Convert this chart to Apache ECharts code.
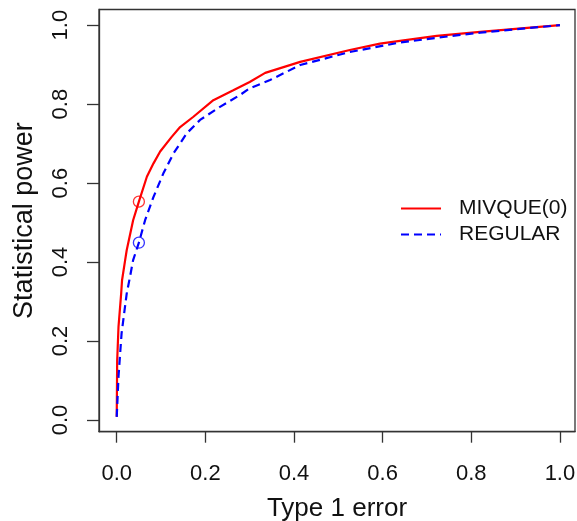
<!DOCTYPE html>
<html><head><meta charset="utf-8">
<script src="https://cdn.jsdelivr.net/npm/echarts@6/dist/echarts.min.js"></script>
<style>html,body{margin:0;padding:0;background:#fff}#c{width:577px;height:521px}</style>
</head><body><div id="c"></div>
<script>
// Data
const mivqueX = [0, 0.001, 0.004, 0.01, 0.012, 0.019, 0.0225, 0.037, 0.05, 0.068, 0.083, 0.098, 0.124, 0.143, 0.173, 0.218, 0.263, 0.30, 0.335, 0.414, 0.526, 0.594, 0.639, 0.722, 0.82, 1.0];
const mivqueY = [0.008, 0.15, 0.236, 0.32, 0.354, 0.405, 0.43, 0.506, 0.553, 0.616, 0.65, 0.68, 0.717, 0.742, 0.768, 0.81, 0.835, 0.856, 0.879, 0.907, 0.937, 0.953, 0.96, 0.973, 0.983, 1.0];
const regularX = [0, 0.004, 0.011, 0.0225, 0.030, 0.037, 0.05, 0.064, 0.083, 0.105, 0.128, 0.158, 0.188, 0.233, 0.278, 0.30, 0.346, 0.414, 0.526, 0.639, 0.737, 0.82, 1.0];
const regularY = [0.008, 0.11, 0.22, 0.32, 0.363, 0.405, 0.449, 0.506, 0.565, 0.624, 0.675, 0.726, 0.76, 0.793, 0.823, 0.84, 0.861, 0.899, 0.932, 0.956, 0.970, 0.981, 1.0];
const markX = [0.05];
const markMivqueY = [0.553];
const markRegularY = [0.449];
const tickValues = [0, 0.2, 0.4, 0.6, 0.8, 1.0];
const tickLabels = ['0.0', '0.2', '0.4', '0.6', '0.8', '1.0'];
const seriesNames = ['MIVQUE(0)', 'REGULAR'];

const zip = (xs, ys) => xs.map((x, i) => [x, ys[i]]);
const fmt = v => { const i = tickValues.findIndex(t => Math.abs(t - v) < 1e-9); return i >= 0 ? tickLabels[i] : ''; };
const FONT = '"Liberation Sans", Arial, sans-serif';
const axisCol = '#333';

const chart = echarts.init(document.getElementById('c'), null, {renderer: 'canvas'});
chart.setOption({
  animation: false,
  backgroundColor: '#fff',
  grid: {left: 99, top: 9.5, right: 2, bottom: 89.3, show: true, borderColor: axisCol, borderWidth: 1.3,
         backgroundColor: 'transparent', containLabel: false, outerBoundsMode: 'none'},
  xAxis: {
    type: 'value', min: -0.04, max: 1.034,
    splitLine: {show: false},
    axisLine: {show: true, onZero: false, lineStyle: {color: axisCol, width: 1.3}},
    axisTick: {show: true, customValues: tickValues, length: 11, lineStyle: {color: axisCol, width: 1.3}},
    axisLabel: {customValues: tickValues, formatter: fmt, fontFamily: FONT, fontSize: 22, color: '#111', margin: 31},
    name: 'Type 1 error', nameLocation: 'middle', nameGap: 64,
    nameTextStyle: {fontFamily: FONT, fontSize: 26, color: '#111'}
  },
  yAxis: {
    type: 'value', min: -0.0296, max: 1.0396,
    splitLine: {show: false},
    axisLine: {show: true, onZero: false, lineStyle: {color: axisCol, width: 1.3}},
    axisTick: {show: true, customValues: tickValues, length: 12, lineStyle: {color: axisCol, width: 1.3}},
    axisLabel: {customValues: tickValues, formatter: fmt, rotate: 90, fontFamily: FONT, fontSize: 22, color: '#111', margin: 27},
    name: 'Statistical power', nameLocation: 'middle', nameGap: 61, nameRotate: 90,
    nameTextStyle: {fontFamily: FONT, fontSize: 27, color: '#111'}
  },
  legend: {
    orient: 'vertical', left: 395, top: 193,
    itemWidth: 40, itemHeight: 14, itemGap: 5,
    itemStyle: {opacity: 0},
    formatter: name => '{s|}' + name,
    textStyle: {fontFamily: FONT, fontSize: 21, color: '#111', rich: {s: {width: 13}}},
    data: [seriesNames[0], seriesNames[1]]
  },
  series: [
    {name: seriesNames[0], type: 'line', data: zip(mivqueX, mivqueY), showSymbol: false, symbol: 'none',
     lineStyle: {color: '#ff0000', width: 2.2}, itemStyle: {color: '#ff0000'}, z: 3},
    {name: seriesNames[1], type: 'line', data: zip(regularX, regularY), showSymbol: false, symbol: 'none',
     lineStyle: {color: '#0000ff', width: 2.2, type: [8, 5]}, itemStyle: {color: '#0000ff'}, z: 4},
    {name: 'mark1', type: 'scatter', data: zip(markX, markMivqueY), symbol: 'circle', symbolSize: 11,
     itemStyle: {color: 'rgba(0,0,0,0)', borderColor: '#ff0000', borderWidth: 1.3}, z: 5},
    {name: 'mark2', type: 'scatter', data: zip(markX, markRegularY), symbol: 'circle', symbolSize: 11,
     itemStyle: {color: 'rgba(0,0,0,0)', borderColor: '#0000ff', borderWidth: 1.3}, z: 5}
  ]
});
</script></body></html>
